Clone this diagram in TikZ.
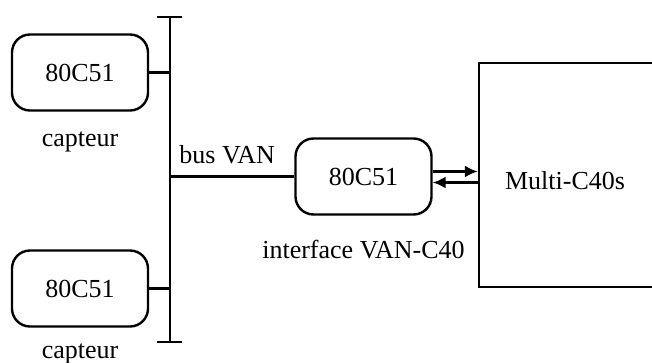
\documentclass[tikz,border=0pt]{standalone}
\usepackage{fontspec}
\setmainfont{Liberation Serif}
\usepackage{tikz}
\usetikzlibrary{arrows.meta,positioning}

\begin{document}
\begin{tikzpicture}[
  x=0.5pt, y=-0.5pt,
  every node/.style={font=\fontsize{13}{15}\selectfont, inner sep=0pt},
  mcu/.style={draw, line width=1.2pt, rounded corners=9pt, minimum width=68pt, minimum height=38pt},
  bigbox/.style={draw, line width=1.2pt, minimum width=95pt, minimum height=112pt},
  wire/.style={line width=1.2pt},
  link/.style={line width=1.2pt,-{Latex[length=6.5pt,width=6pt]}}
]
\useasboundingbox (0,0) rectangle (652,363);
\clip (0,0) rectangle (652,363);
% bus
\coordinate (bustop) at (170,17);
\coordinate (busbot) at (170,342);
\draw[wire] (bustop) -- (busbot);
\draw[wire] ([xshift=-6.5pt]bustop) -- ([xshift=6pt]bustop);
\draw[wire] ([xshift=-6.5pt]busbot) -- ([xshift=6pt]busbot);
% capteurs
\node[mcu] (cap1) at (80,72.5) {80C51};
\node[below=10pt of cap1] (cap1lab) {capteur};
\node[mcu] (cap2) at (80,288.5) {80C51};
\node[below=8pt of cap2] (cap2lab) {capteur};
\draw[wire] (cap1.east) -- (cap1.east -| bustop);
\draw[wire] (cap2.east) -- (cap2.east -| bustop);
% interface
\node[mcu] (itf) at (363.5,176.5) {80C51};
\node[below=12pt of itf] (itflab) {interface VAN-C40};
\draw[wire] (itf.west -| bustop) -- (itf.west);
\node[anchor=base west] (buslab) at (179,164) {bus VAN};
% multi-C40
\node[bigbox] (multi) at (574,175) {\hspace*{-9pt}\raisebox{-7.5pt}[0pt][0pt]{Multi-C40s}};
\draw[link] ([yshift=2.5pt]itf.east) -- ([yshift=2.5pt]itf.east -| multi.west);
\draw[link] ([yshift=-3pt]itf.east -| multi.west) -- ([yshift=-3pt]itf.east);
\end{tikzpicture}
\end{document}
